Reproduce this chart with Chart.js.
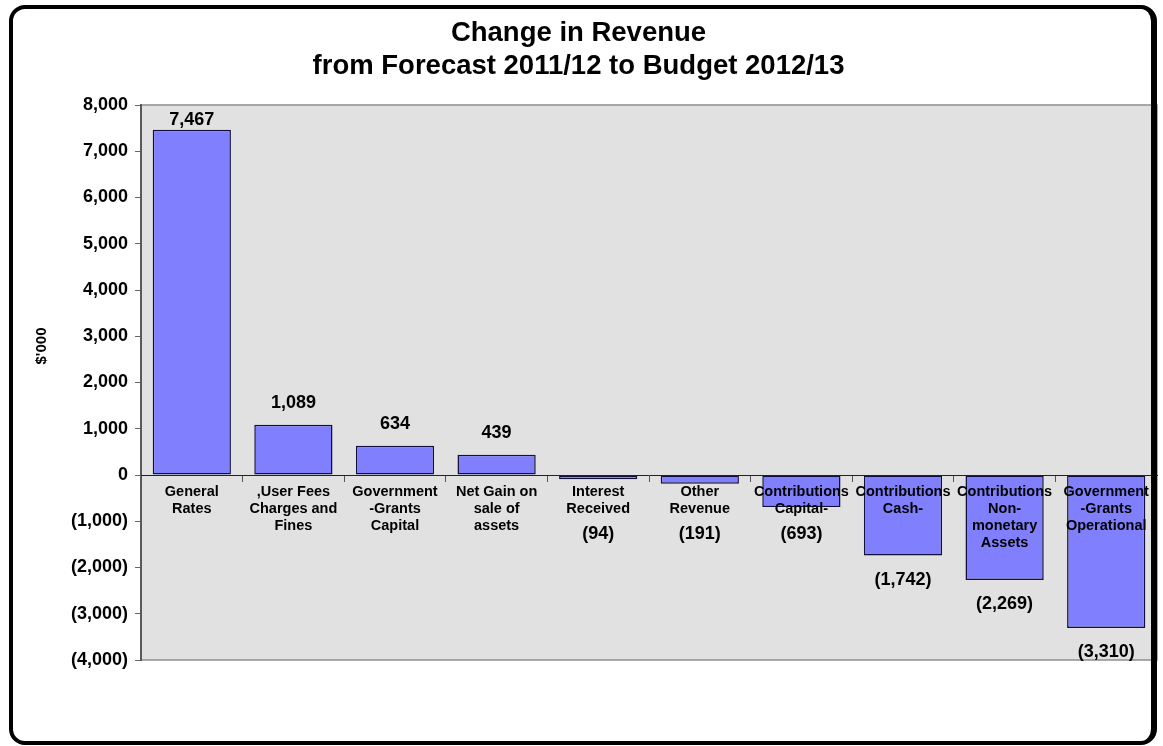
<!DOCTYPE html>
<html>
<head>
<meta charset="utf-8">
<title>Change in Revenue</title>
<script src="https://cdn.jsdelivr.net/npm/chart.js@4/dist/chart.umd.min.js"></script>
<style>
  html, body { margin: 0; padding: 0; background: #fff; }
  #wrap { position: relative; width: 1163px; height: 746px; overflow: hidden; }
  #c { position: absolute; left: 0; top: 0; }
  #frame {
    position: absolute; left: 9px; top: 5px; width: 1148px; height: 740px;
    box-sizing: border-box; border: 4px solid #000; border-right-width: 6px;
    border-radius: 16px; pointer-events: none;
  }
</style>
</head>
<body>
<div id="wrap">
  <canvas id="c" width="1163" height="746"></canvas>
  <div id="frame"></div>
</div>
<script>
// Revenue lines, each label split into its printed lines
const categories = [
  ['General', 'Rates'],
  [',User Fees', 'Charges and', 'Fines'],
  ['Government', '-Grants', 'Capital'],
  ['Net Gain on', 'sale of', 'assets'],
  ['Interest', 'Received'],
  ['Other', 'Revenue'],
  ['Contributions', 'Capital-'],
  ['Contributions', 'Cash-'],
  ['Contributions', 'Non-', 'monetary', 'Assets'],
  ['Government', '-Grants', 'Operational']
];

// Change from forecast 2011/12 to budget 2012/13, $'000
const revenueChange = [7467, 1089, 634, 439, -94, -191, -693, -1742, -2269, -3310];

// Value axis ticks, $'000
const yTickValues = [-4000, -3000, -2000, -1000, 0, 1000, 2000, 3000, 4000, 5000, 6000, 7000, 8000];

const titleLines = ['Change in Revenue', 'from Forecast 2011/12 to Budget 2012/13'];
const yAxisTitle = "$'000";

const FONT = "'Liberation Sans', Arial, Helvetica, sans-serif";

// Accounting style: thousands separators, negatives in brackets
function fmt(v) {
  const s = Math.abs(v).toLocaleString('en-US');
  return v < 0 ? '(' + s + ')' : s;
}

// Grey plot area with a thin frame
const plotBackground = {
  id: 'plotBackground',
  beforeDraw(chart) {
    const { ctx, chartArea: a } = chart;
    ctx.save();
    ctx.fillStyle = '#e1e1e1';
    ctx.fillRect(a.left, a.top, a.right - a.left, a.bottom - a.top);
    ctx.strokeStyle = '#8e8e8e';
    ctx.lineWidth = 1.5;
    ctx.strokeRect(a.left, a.top, a.right - a.left, a.bottom - a.top);
    ctx.restore();
  }
};

// Value labels above positive bars and below negative ones
const valueLabels = {
  id: 'valueLabels',
  afterDatasetsDraw(chart) {
    const { ctx, chartArea } = chart;
    const zero = chart.scales.y.getPixelForValue(0);
    const meta = chart.getDatasetMeta(0);
    ctx.save();
    ctx.font = 'bold 18px ' + FONT;
    ctx.fillStyle = '#000';
    ctx.textAlign = 'center';
    ctx.textBaseline = 'middle';
    meta.data.forEach((bar, i) => {
      const v = revenueChange[i];
      let y;
      if (v >= 0) {
        y = Math.max(bar.y - 22, chartArea.top + 15);
      } else {
        // keep clear of the category text under the zero line
        y = Math.max(bar.y + 24, zero + 59);
      }
      ctx.fillText(fmt(v), bar.x, y);
    });
    ctx.restore();
  }
};

// Rotated value-axis title
const axisTitle = {
  id: 'axisTitle',
  afterDraw(chart) {
    const { ctx } = chart;
    ctx.save();
    ctx.translate(42, 346);
    ctx.rotate(-Math.PI / 2);
    ctx.font = 'bold 15px ' + FONT;
    ctx.fillStyle = '#000';
    ctx.textAlign = 'center';
    ctx.textBaseline = 'middle';
    ctx.fillText(yAxisTitle, 0, 0);
    ctx.restore();
  }
};

new Chart(document.getElementById('c'), {
  type: 'bar',
  data: {
    labels: categories,
    datasets: [{
      data: revenueChange,
      backgroundColor: '#8080ff',
      borderColor: '#10103a',
      borderWidth: 1.5,
      borderSkipped: false,
      categoryPercentage: 1.0,
      barPercentage: 0.77
    }]
  },
  options: {
    responsive: false,
    animation: false,
    devicePixelRatio: 1,
    layout: { padding: { left: 0, right: 6, top: 0, bottom: 86 } },
    plugins: {
      legend: { display: false },
      tooltip: { enabled: false },
      title: {
        display: true,
        text: titleLines,
        color: '#000',
        font: { family: FONT, size: 27.5, weight: 'bold', lineHeight: 1.2 },
        padding: { top: 16.5, bottom: 22.5 }
      }
    },
    scales: {
      x: {
        position: { y: 0 },
        offset: true,
        grid: {
          display: true,
          drawOnChartArea: false,
          drawTicks: true,
          tickLength: 6,
          offset: true,
          color: '#555',
          z: 1
        },
        border: { display: true, color: '#222', width: 1, z: 1 },
        ticks: {
          z: 1,
          autoSkip: false,
          maxRotation: 0,
          minRotation: 0,
          padding: 2.5,
          color: '#000',
          font: { family: FONT, size: 14.5, weight: 'bold', lineHeight: 1.17 }
        }
      },
      y: {
        min: -4000,
        max: 8000,
        afterBuildTicks(scale) {
          scale.ticks = yTickValues.map(v => ({ value: v }));
        },
        afterFit(scale) { scale.width = 141; },
        grid: {
          display: true,
          drawOnChartArea: false,
          drawTicks: true,
          tickLength: 6,
          color: '#666'
        },
        border: { display: true, color: '#5a5a5a', width: 2 },
        ticks: {
          padding: 7,
          color: '#000',
          font: { family: FONT, size: 18, weight: 'bold' },
          callback: v => fmt(v)
        }
      }
    }
  },
  plugins: [plotBackground, valueLabels, axisTitle]
});
</script>
</body>
</html>
